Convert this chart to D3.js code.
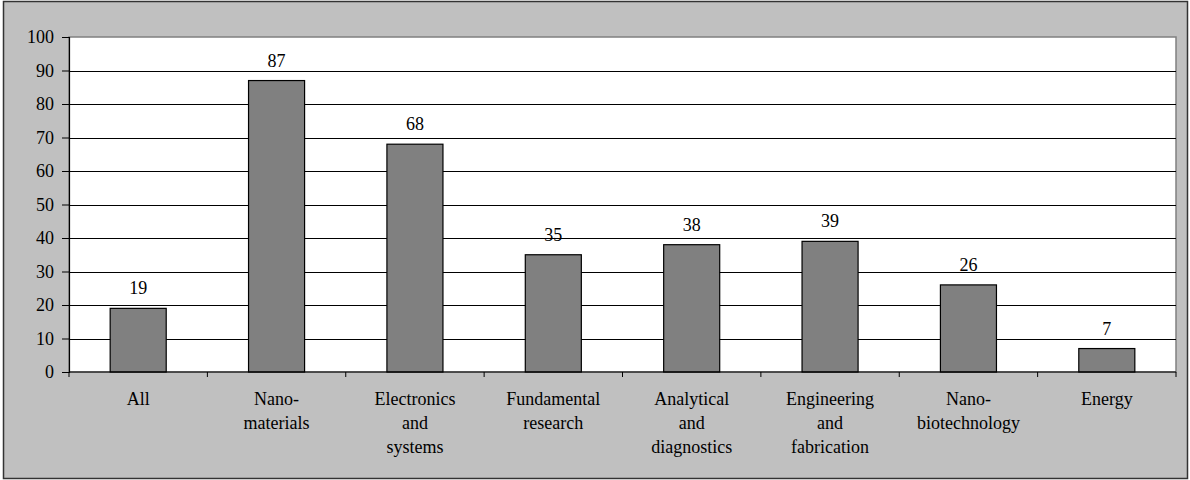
<!DOCTYPE html>
<html><head><meta charset="utf-8">
<script src="https://cdn.jsdelivr.net/npm/d3@7"></script>
</head><body style="margin:0;padding:0;overflow:hidden;">
<script>
const categories = ["All", "Nano-\nmaterials", "Electronics\nand\nsystems", "Fundamental\nresearch", "Analytical\nand\ndiagnostics", "Engineering\nand\nfabrication", "Nano-\nbiotechnology", "Energy"];
const values = [19, 87, 68, 35, 38, 39, 26, 7];
const yTicks = [0, 10, 20, 30, 40, 50, 60, 70, 80, 90, 100];

const W = 1190, H = 480;
const m = {left: 69, right: 1176, top: 37, bottom: 372};
const FONT = '"Liberation Serif"';
function styleText(sel) {
  return sel.style("font-family", FONT).style("font-size", "18px");
}

const svg = d3.select("body").append("svg").attr("width", W).attr("height", H);
svg.append("rect").attr("x", 3.5).attr("y", 1.5).attr("width", 1184).attr("height", 477)
  .attr("fill", "#c0c0c0").attr("stroke", "#333").attr("stroke-width", 1.5);

const x = d3.scaleBand().domain(categories).range([m.left, m.right]).paddingInner(0).paddingOuter(0);
const y = d3.scaleLinear().domain([0, 100]).range([m.bottom, m.top]);

svg.append("rect").attr("x", m.left).attr("y", m.top).attr("width", m.right - m.left).attr("height", m.bottom - m.top)
  .attr("fill", "#fff").attr("stroke", "#808080").attr("stroke-width", 1.5);

svg.append("g").selectAll("line").data(yTicks.filter(d => d > 0 && d < 100)).join("line")
  .attr("x1", m.left).attr("x2", m.right)
  .attr("y1", d => Math.round(y(d)) + 0.5).attr("y2", d => Math.round(y(d)) + 0.5)
  .attr("stroke", "#000").attr("stroke-width", 1);

const bw = x.bandwidth() * 0.405;
svg.append("g").selectAll("rect").data(values).join("rect")
  .attr("x", (d, i) => x(categories[i]) + x.bandwidth() / 2 - bw / 2)
  .attr("y", d => y(d))
  .attr("width", bw)
  .attr("height", d => y(0) - y(d))
  .attr("fill", "#808080").attr("stroke", "#000").attr("stroke-width", 1.2);

values.forEach((v, i) => {
  const t = svg.append("text")
    .attr("x", x(categories[i]) + x.bandwidth() / 2)
    .attr("y", y(v) - 14)
    .attr("text-anchor", "middle")
    .text(v);
  styleText(t);
});

const yAxis = svg.append("g").attr("transform", `translate(${m.left},0)`)
  .call(d3.axisLeft(y).tickValues(yTicks).tickSize(7).tickFormat(""));
yAxis.select(".domain").attr("stroke", "#000").attr("stroke-width", 1.2);
yAxis.selectAll(".tick line").attr("stroke", "#000");
yTicks.forEach(v => {
  const t = svg.append("text").attr("x", m.left - 15).attr("y", y(v)).attr("dy", "0.34em")
    .attr("text-anchor", "end").text(v);
  styleText(t);
});

const xb = svg.append("g").attr("transform", `translate(0,${m.bottom})`);
xb.append("line").attr("x1", m.left).attr("x2", m.right).attr("y1", 0).attr("y2", 0).attr("stroke", "#000").attr("stroke-width", 1.2);
const bounds = categories.map(c => x(c)).concat([m.right]);
xb.selectAll("line.tk").data(bounds).join("line").attr("class", "tk")
  .attr("x1", d => d).attr("x2", d => d).attr("y1", 0).attr("y2", 5).attr("stroke", "#000");

categories.forEach(c => {
  c.split("\n").forEach((line, i) => {
    const t = svg.append("text").attr("text-anchor", "middle")
      .attr("x", x(c) + x.bandwidth() / 2).attr("y", m.bottom + 33 + i * 24).text(line);
    styleText(t);
  });
});
</script>
</body></html>
